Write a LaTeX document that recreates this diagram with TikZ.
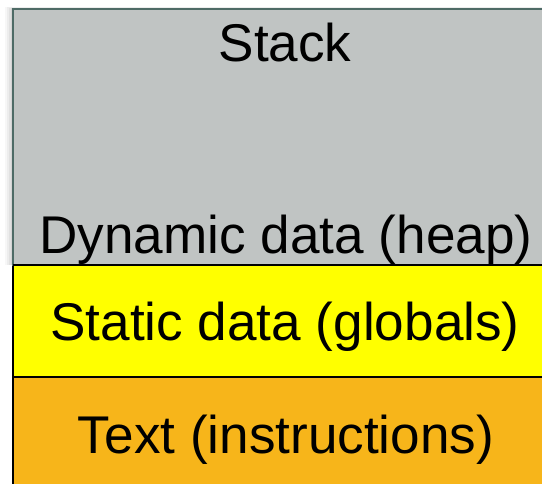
\documentclass[tikz,border=0pt]{standalone}
\usepackage{fontspec}
\setmainfont{Liberation Sans}
\definecolor{stackgray}{HTML}{C0C4C3}
\definecolor{stackedge}{HTML}{4E6B66}
\definecolor{textorange}{HTML}{F7B51A}
\definecolor{staticyellow}{HTML}{FFFF00}
\begin{document}
\begin{tikzpicture}[x=1bp,y=-1bp,
  seglabel/.style={anchor=base,inner sep=0pt,font=\fontsize{53.3}{60}\selectfont},
  segline/.style={draw=black,line width=1.5bp}]
\useasboundingbox (0,0) rectangle (542,484);
\clip (0,0) rectangle (542,484);
% soft shadow
\foreach \d/\o in {8/0.03,6/0.04,4/0.05,2/0.06}{
  \fill[black,opacity=\o] (13-\d,9-\d*0.3) rectangle (560,265);
}
\fill[textorange,segline] (13,377) rectangle (560,500);
\fill[staticyellow,segline] (13,265) rectangle (560,377);
\fill[stackgray,draw=stackedge,line width=2bp] (13,9) rectangle (560,265);
\draw[segline] (13,265) -- (560,265);
\node[seglabel] (stack) at (285,62) {Stack};
\node[seglabel] (heap) at (286,253) {Dynamic data (heap)};
\node[seglabel] (static) at (285,340) {Static data (globals)};
\node[seglabel] (text) at (286,453) {Text (instructions)};
\end{tikzpicture}
\end{document}
